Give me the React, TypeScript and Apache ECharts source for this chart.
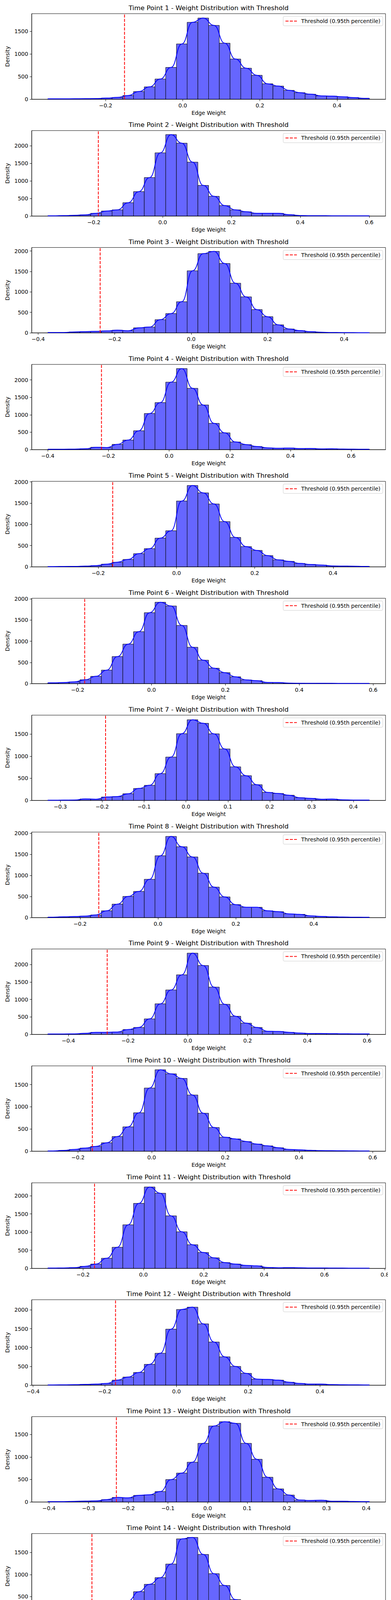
import React, { useEffect, useRef } from 'react';
import * as echarts from 'echarts';

const FONT = 'DejaVu Sans';
const LEGEND_NAME = 'Threshold (0.95th percentile)';

const titles = [
  ...Array.from({ length: 19 }, (_, i) => `Time Point ${i + 1} - Weight Distribution with Threshold`),
  'Edge Weight Distribution with Threshold at 0.95th Percentile for theta Band for method aec',
];

// bin heights (30 bins per time point)
const tp1 = [8, 8, 10, 12, 14, 25, 40, 82, 170, 273, 446, 702, 1219, 1696, 1790, 1628, 1236, 886, 685, 528, 341, 290, 196, 145, 111, 74, 68, 54, 37, 20];
const tp2 = [5, 10, 20, 33, 77, 143, 176, 379, 695, 1095, 1798, 2316, 2073, 1533, 871, 562, 298, 176, 121, 77, 77, 77, 40, 15, 8, 8, 6, 6, 5, 5];
const tp3 = [6, 7, 22, 29, 36, 47, 65, 51, 123, 141, 322, 471, 761, 1518, 1938, 1993, 1696, 1214, 880, 569, 395, 196, 94, 54, 29, 14, 7, 5, 4, 3];
const tp4 = [10, 12, 15, 25, 68, 59, 152, 275, 541, 1036, 1349, 1936, 2325, 1759, 1281, 753, 482, 220, 144, 89, 51, 38, 46, 30, 34, 21, 25, 17, 13, 12];
const tp5 = [5, 8, 10, 15, 28, 63, 108, 174, 310, 429, 676, 850, 1550, 1916, 1742, 1481, 1066, 693, 477, 387, 265, 164, 129, 80, 56, 42, 21, 17, 14, 10];
const tp6 = [18, 25, 42, 91, 172, 319, 638, 932, 1226, 1674, 1920, 1832, 1373, 858, 553, 364, 259, 161, 88, 70, 28, 25, 11, 8, 6, 7, 6, 5, 5, 4];
const tp7 = [4, 6, 8, 33, 27, 77, 87, 151, 271, 342, 606, 981, 1510, 1825, 1745, 1507, 1165, 760, 559, 355, 181, 157, 117, 60, 47, 27, 30, 13, 7, 7];
const tp8 = [10, 18, 25, 35, 63, 161, 319, 501, 620, 907, 1464, 1923, 1678, 1436, 1051, 722, 490, 308, 245, 245, 161, 140, 88, 77, 42, 28, 18, 14, 10, 7];
const tp9 = [12, 12, 15, 30, 59, 59, 68, 140, 199, 445, 877, 1275, 1708, 2330, 1975, 1356, 864, 521, 322, 199, 89, 85, 59, 38, 25, 25, 21, 17, 15, 15];
const tp10 = [5, 17, 40, 70, 107, 190, 331, 548, 865, 1423, 1834, 1743, 1640, 1266, 855, 534, 314, 277, 217, 160, 120, 77, 40, 30, 20, 13, 10, 8, 6, 5];
const tp11 = [8, 12, 20, 57, 119, 279, 582, 1201, 1791, 2242, 2070, 1447, 1008, 652, 438, 291, 160, 119, 82, 70, 25, 16, 20, 16, 12, 12, 8, 7, 6, 5];
const tp12 = [6, 8, 12, 20, 28, 47, 134, 216, 338, 554, 849, 1489, 2012, 2074, 1630, 1147, 754, 499, 314, 161, 153, 134, 79, 47, 28, 28, 16, 10, 8, 6];
const tp13 = [7, 7, 13, 20, 23, 52, 101, 92, 147, 160, 232, 498, 642, 884, 1303, 1689, 1784, 1748, 1303, 949, 550, 291, 154, 43, 33, 39, 16, 16, 10, 7];
const tp14 = [10, 20, 27, 44, 131, 211, 244, 405, 613, 780, 931, 1239, 1809, 1842, 1457, 1021, 754, 435, 228, 137, 60, 54, 40, 54, 47, 30, 27, 17, 13, 7];
const tp15 = [8, 10, 12, 23, 62, 91, 238, 682, 1274, 1554, 1503, 1370, 1237, 977, 716, 674, 504, 444, 385, 243, 209, 178, 127, 96, 51, 37, 20, 12, 10, 8];
const tp16 = [12, 40, 71, 108, 193, 441, 831, 1293, 1782, 1863, 1639, 1293, 1056, 842, 441, 309, 139, 183, 85, 61, 40, 24, 17, 12, 10, 9, 8, 8, 7, 6];
const tp17 = [10, 35, 35, 70, 147, 154, 238, 262, 374, 504, 675, 951, 1126, 1686, 1920, 1556, 1042, 650, 455, 301, 189, 112, 73, 80, 45, 35, 21, 14, 10, 7];
const tp18 = [14, 27, 59, 68, 126, 239, 532, 901, 1829, 2482, 2361, 1590, 964, 532, 387, 234, 153, 68, 45, 23, 18, 14, 12, 10, 8, 8, 9, 10, 8, 7];
const tp19 = [7, 10, 17, 35, 49, 94, 189, 371, 654, 937, 1280, 2161, 2172, 1773, 1091, 664, 381, 255, 189, 126, 94, 70, 45, 17, 12, 10, 9, 10, 9, 7];
const overall = [8, 15, 23, 23, 31, 70, 141, 148, 242, 391, 523, 875, 1529, 1633, 1591, 1328, 1133, 938, 711, 461, 336, 250, 148, 96, 52, 44, 23, 13, 13, 8];

const binCounts = [tp1, tp2, tp3, tp4, tp5, tp6, tp7, tp8, tp9, tp10, tp11, tp12, tp13, tp14, tp15, tp16, tp17, tp18, tp19, overall];

// smallest and largest edge weight (histogram range) and the 0.95 threshold
const weightMin = [-0.350, -0.334, -0.375, -0.400, -0.329, -0.281, -0.330, -0.283, -0.469, -0.282, -0.317, -0.359, -0.403, -0.314, -0.228, -0.243, -0.340, -0.332, -0.386, -0.328];
const weightMax = [0.484, 0.601, 0.466, 0.660, 0.493, 0.590, 0.438, 0.543, 0.608, 0.591, 0.749, 0.538, 0.408, 0.465, 0.669, 0.714, 0.424, 0.813, 0.622, 0.498];
const thresholds = [-0.151, -0.187, -0.238, -0.223, -0.163, -0.181, -0.192, -0.152, -0.270, -0.161, -0.162, -0.170, -0.230, -0.207, -0.072, -0.146, -0.245, -0.210, -0.217, -0.176];

// axis limits and tick spacing
const densityMax = [1886, 2430, 2087, 2444, 2014, 2014, 1929, 2025, 2449, 1921, 2357, 2271, 1896, 1929, 1628, 1962, 2024, 2595, 2311, 1724];
const xTickSteps = [0.2, 0.2, 0.2, 0.2, 0.2, 0.2, 0.1, 0.2, 0.2, 0.2, 0.2, 0.2, 0.1, 0.1, 0.2, 0.2, 0.1, 0.2, 0.2, 0.2];
const yTickSteps = [500, 500, 500, 500, 500, 500, 500, 500, 500, 500, 500, 500, 500, 500, 250, 500, 500, 500, 500, 250];

const PANEL_STEP = 299.3;
const PANEL_TOP = 35;
const PANEL_H = 221;
const PANEL_LEFT = 81;
const PANEL_W = 905;

function tickValues(lo: number, hi: number, step: number) {
  const out: number[] = [];
  const tol = step * 0.01;
  for (let i = Math.ceil((lo - tol) / step); i * step <= hi + tol; i++) {
    out.push(Number((i * step).toFixed(6)));
  }
  return out;
}

const fmtX = (v: number) => (Math.abs(v) < 1e-9 ? '0.0' : v.toFixed(1).replace('-', '\u2212'));

function buildOption(k: number, offset: number) {
  const counts = binCounts[k];
  const top = PANEL_TOP + offset;
  const lo = weightMin[k];
  const hi = weightMax[k];
  const pad = (hi - lo) * 0.05;
  const xMin = lo - pad;
  const xMax = hi + pad;
  const yMax = densityMax[k];
  const width = (hi - lo) / counts.length;
  const xTicks = tickValues(xMin, xMax, xTickSteps[k]);
  const yTicks = tickValues(0, yMax, yTickSteps[k]);
  const textStyle = { fontFamily: FONT, fontSize: 13.9, color: '#000' };

  const bins = counts.map((c, i) => [lo + i * width, lo + (i + 1) * width, c]);
  const kde = [
    [lo, counts[0]],
    ...counts.map((c, i) => [lo + (i + 0.5) * width, c]),
    [hi, counts[counts.length - 1]],
  ];

  return {
    animation: false,
    backgroundColor: '#ffffff',
    grid: {
      left: PANEL_LEFT,
      top,
      width: PANEL_W,
      height: PANEL_H,
      show: true,
      borderColor: '#000',
      borderWidth: 1,
      backgroundColor: 'transparent',
    },
    xAxis: {
      type: 'value',
      min: xMin,
      max: xMax,
      name: 'Edge Weight',
      nameLocation: 'middle',
      nameGap: 28,
      nameTextStyle: textStyle,
      axisLine: { show: true, onZero: false, lineStyle: { color: '#000', width: 1 } },
      axisTick: { show: true, length: 5, lineStyle: { color: '#000' }, customValues: xTicks },
      axisLabel: { ...textStyle, margin: 9, customValues: xTicks, formatter: fmtX },
      splitLine: { show: false },
    },
    yAxis: {
      type: 'value',
      min: 0,
      max: yMax,
      name: 'Density',
      nameLocation: 'middle',
      nameGap: 52,
      nameTextStyle: textStyle,
      axisLine: { show: true, onZero: false, lineStyle: { color: '#000', width: 1 } },
      axisTick: { show: true, length: 5, lineStyle: { color: '#000' }, customValues: yTicks },
      axisLabel: {
        ...textStyle,
        margin: 9,
        customValues: yTicks,
        formatter: (v: number) => String(Math.round(v)),
      },
      splitLine: { show: false },
    },
    legend: {
      data: [LEGEND_NAME],
      right: 21,
      top: top + 7,
      itemWidth: 29,
      itemHeight: 14,
      padding: [5, 6, 5, 5],
      borderColor: '#cccccc',
      borderWidth: 1,
      borderRadius: 3,
      backgroundColor: '#ffffff',
      selectedMode: false,
      itemStyle: { opacity: 0 },
      textStyle: { ...textStyle, padding: [0, 0, 0, 6] },
    },
    graphic: [
      {
        type: 'text',
        x: PANEL_LEFT + PANEL_W / 2,
        y: top - 15,
        style: {
          text: titles[k],
          fontFamily: FONT,
          fontSize: 16.7,
          fill: '#000',
          align: 'center',
          verticalAlign: 'middle',
        },
      },
    ],
    series: [
      {
        type: 'custom',
        encode: { x: [0, 1], y: 2 },
        data: bins,
        renderItem: (_params: any, api: any) => {
          const p0 = api.coord([api.value(0), api.value(2)]);
          const p1 = api.coord([api.value(1), 0]);
          return {
            type: 'rect',
            shape: { x: p0[0], y: p0[1], width: p1[0] - p0[0], height: p1[1] - p0[1] },
            style: { fill: '#6666ff', stroke: '#000', lineWidth: 1 },
          };
        },
        silent: true,
        z: 1,
      },
      {
        type: 'line',
        data: kde,
        smooth: 0.5,
        smoothMonotone: 'x',
        symbol: 'none',
        lineStyle: { color: '#0000ff', width: 2 },
        itemStyle: { color: '#0000ff' },
        silent: true,
        z: 3,
      },
      {
        type: 'line',
        name: LEGEND_NAME,
        data: [
          [thresholds[k], 0],
          [thresholds[k], yMax],
        ],
        symbol: 'none',
        lineStyle: { color: '#ff0000', width: 2, type: [7.7, 3.3] },
        itemStyle: { color: '#ff0000' },
        silent: true,
        z: 4,
      },
    ],
  };
}

function Panel({ index }: { index: number }) {
  const chartRef = useRef<HTMLDivElement>(null);
  const exactTop = index * PANEL_STEP;
  const divTop = Math.floor(exactTop);

  useEffect(() => {
    const chart = echarts.init(chartRef.current, undefined, { renderer: 'svg' });
    chart.setOption(buildOption(index, exactTop - divTop));
    return () => {
      chart.dispose();
    };
  }, [index]);

  return (
    <div
      ref={chartRef}
      style={{ position: 'absolute', left: 0, top: divTop + 'px', width: '1000px', height: '301px' }}
    ></div>
  );
}

function App() {
  return (
    <div style={{ position: 'relative', margin: '-8px 0 0 -8px', width: '1000px', height: '6000px', background: '#fff' }}>
      {binCounts.map((_, i) => (
        <Panel key={i} index={i} />
      ))}
    </div>
  );
}

export default App;
